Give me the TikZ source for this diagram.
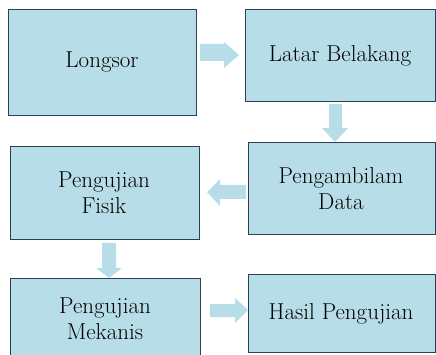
\documentclass[tikz,border=0pt]{standalone}
\definecolor{boxfill}{HTML}{B7DDE8}
\definecolor{boxline}{HTML}{2B3F55}
\definecolor{arrowfill}{HTML}{B7DDE8}
\begin{document}
\begin{tikzpicture}[x=1pt,y=-1pt,
  stepbox/.style={draw=boxline,line width=0.8pt,fill=boxfill},
  steptext/.style={align=center,inner sep=0pt,font=\fontsize{23}{26}\selectfont},
  blockarrow/.style={fill=arrowfill,draw=none}]
\useasboundingbox (0,0) rectangle (436,355);
% process boxes
\path[stepbox] (8,9) rectangle (196,115);
\node[steptext] (longsor) at (102,62) {Longsor};
\path[stepbox] (245,9) rectangle (435,101);
\node[steptext] (latar) at (340,56) {Latar Belakang};
\path[stepbox] (248,142) rectangle (435,234);
\node[steptext] (ambil) at (341,189) {Pengambilam\\Data};
\path[stepbox] (10,146) rectangle (199,239);
\node[steptext] (fisik) at (104,193) {Pengujian\\Fisik};
\path[stepbox] (10,278) rectangle (200,358);
\node[steptext] (mekanis) at (105,319) {Pengujian\\Mekanis};
\path[stepbox] (248,274) rectangle (435,352);
\node[steptext] (hasil) at (341,314) {Hasil Pengujian};
% block arrows between the steps
\fill[blockarrow] (200,44) -- (224,44) -- (224,42) -- (239,55) -- (224,68) -- (224,61) -- (200,61) -- cycle;
\fill[blockarrow] (329,104) -- (342,104) -- (342,128) -- (348,128) -- (335,142) -- (322,128) -- (329,128) -- cycle;
\fill[blockarrow] (246,185) -- (220,185) -- (220,179) -- (207,192) -- (220,206) -- (220,199) -- (246,199) -- cycle;
\fill[blockarrow] (102,243) -- (116,243) -- (116,268) -- (122,268) -- (109,278) -- (96,268) -- (102,268) -- cycle;
\fill[blockarrow] (210,304) -- (235,304) -- (235,298) -- (248,310) -- (235,323) -- (235,317) -- (210,317) -- cycle;
\end{tikzpicture}
\end{document}
